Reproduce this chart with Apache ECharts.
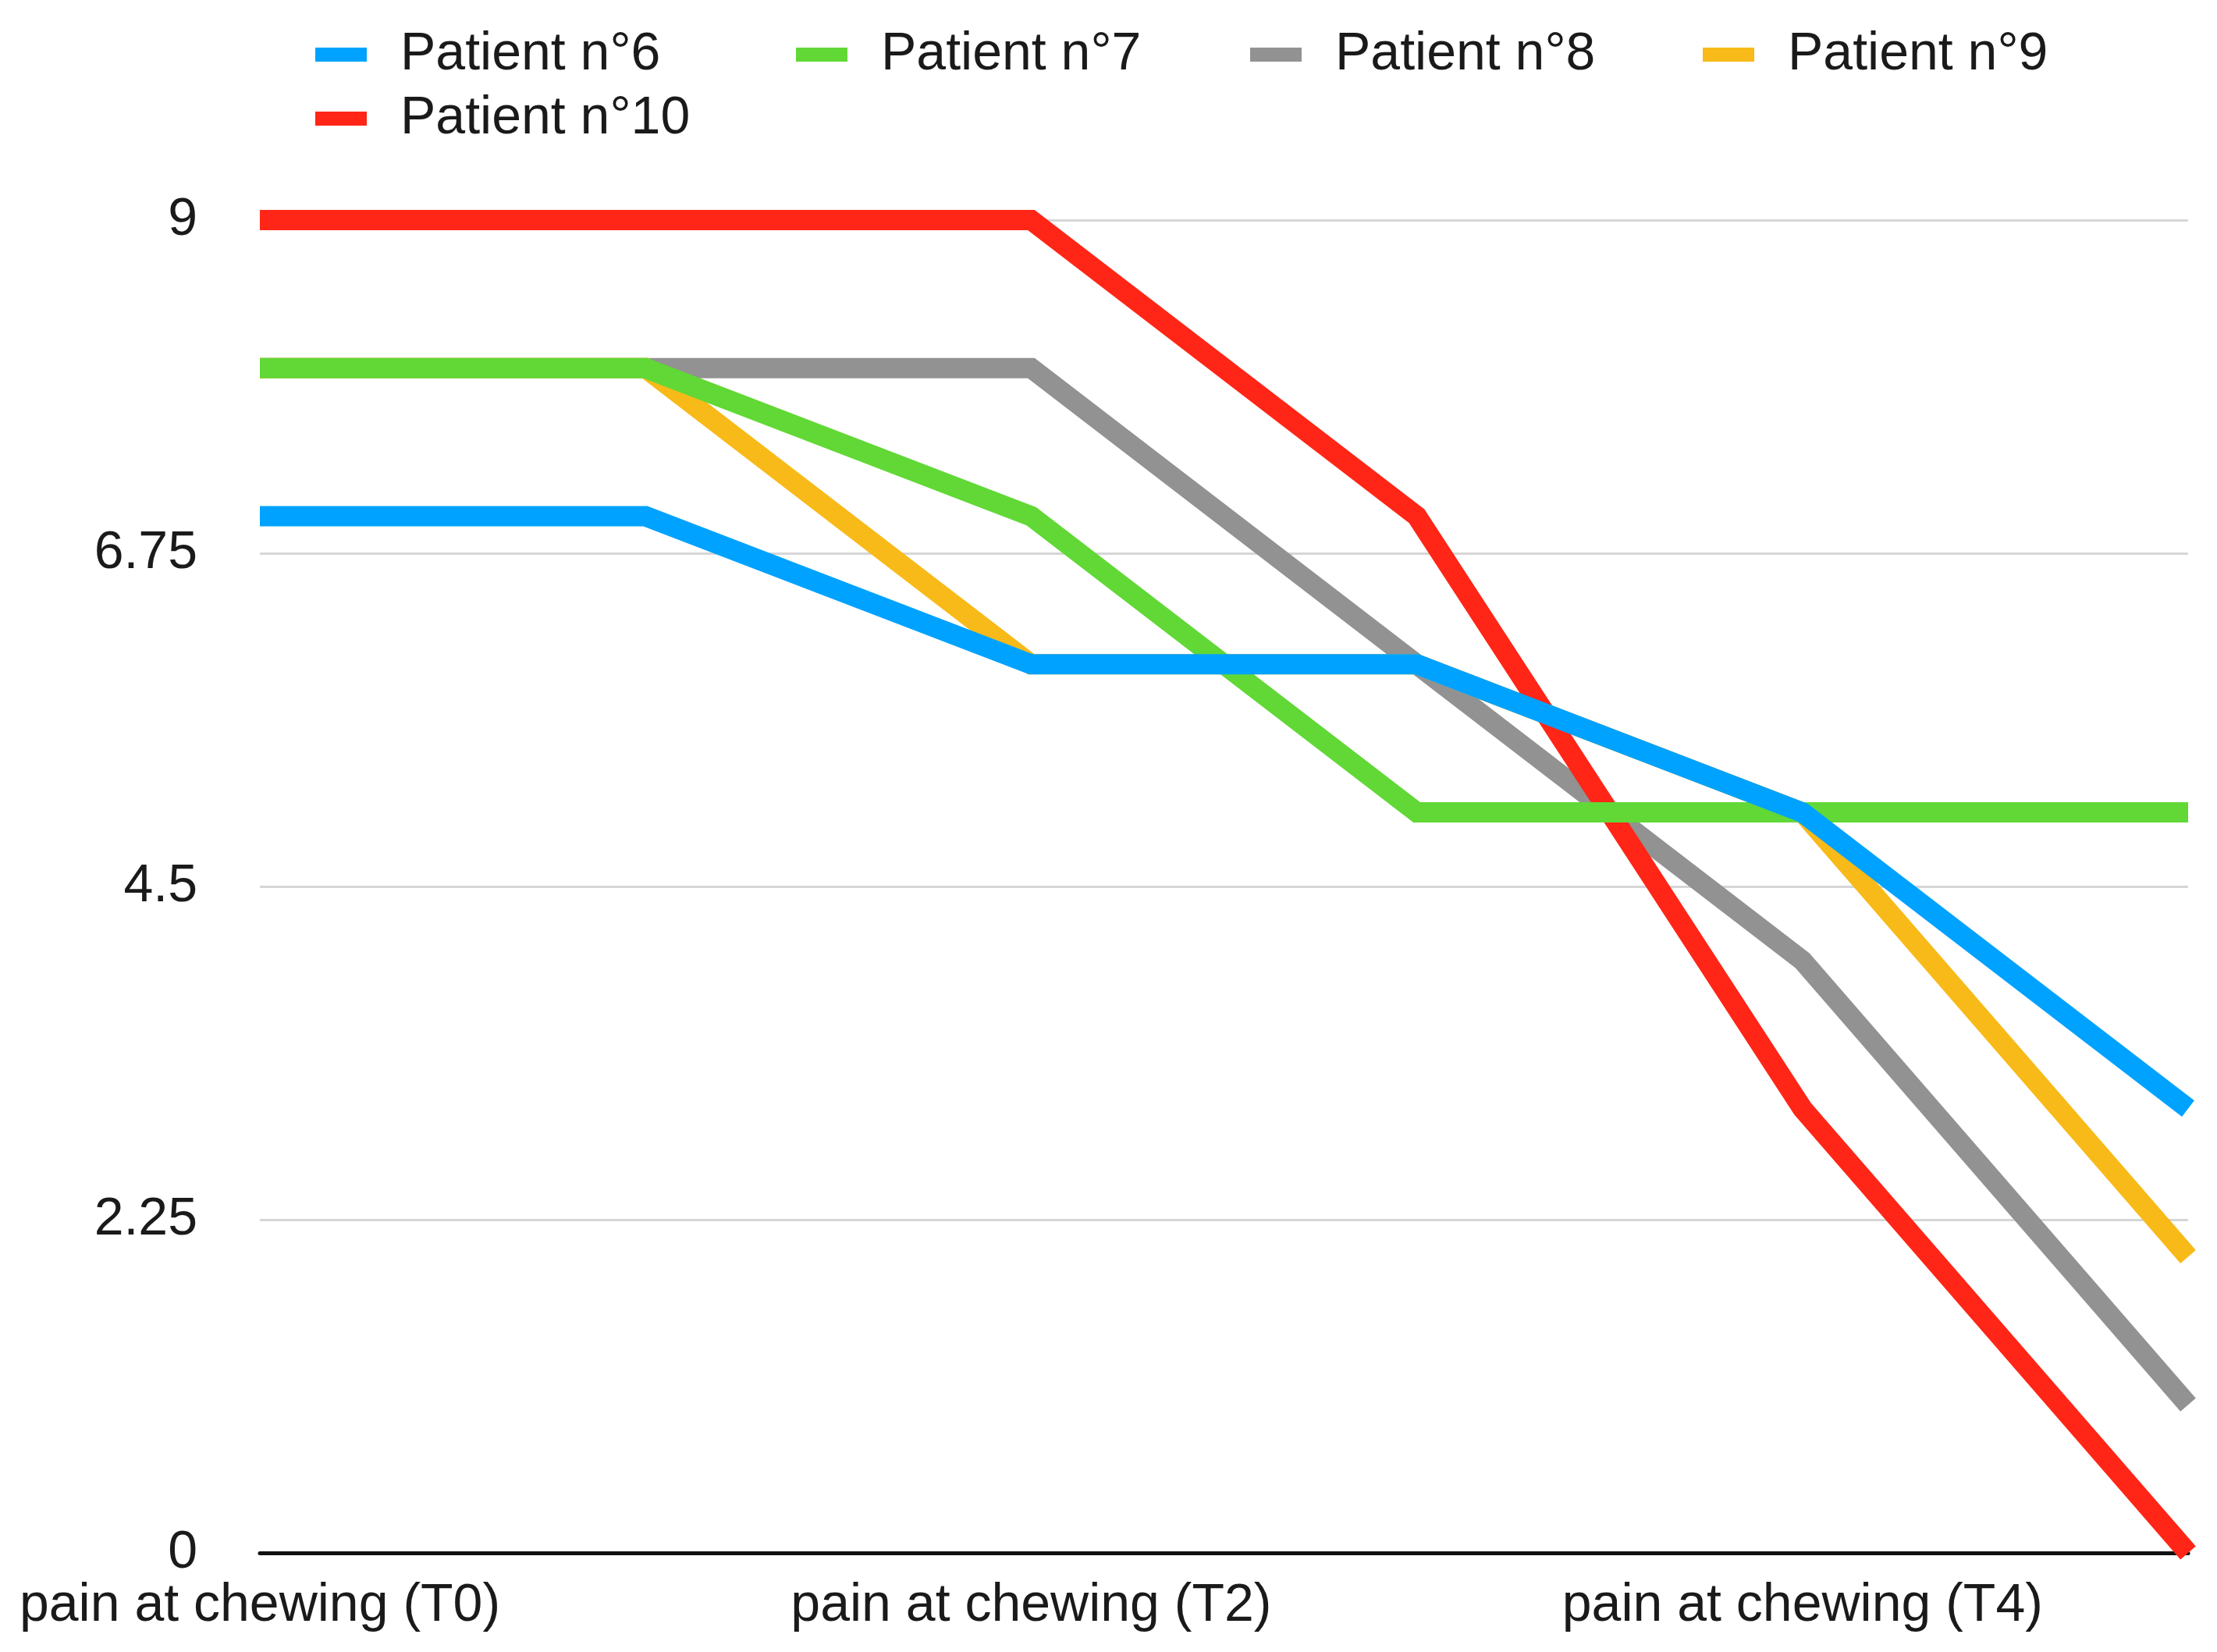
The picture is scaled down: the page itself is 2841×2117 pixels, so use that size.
<!DOCTYPE html>
<html>
<head>
<meta charset="utf-8">
<script src="https://cdn.jsdelivr.net/npm/echarts@6/dist/echarts.min.js"></script>
<style>
html,body{margin:0;padding:0;background:#fff;}
#chart{width:2841px;height:2117px;}
</style>
</head>
<body>
<div id="chart"></div>
<script>
const categories = ["pain at chewing (T0)", "pain at chewing (T1)", "pain at chewing (T2)", "pain at chewing (T3)", "pain at chewing (T4)", "pain at chewing (T5)"];
const seriesNames = ["Patient n°6", "Patient n°7", "Patient n°8", "Patient n°9", "Patient n°10"];
const patient6 = [7, 7, 6, 6, 5, 3];
const patient7 = [8, 8, 7, 5, 5, 5];
const patient8 = [8, 8, 8, 6, 4, 1];
const patient9 = [8, 8, 6, 6, 5, 2];
const patient10 = [9, 9, 9, 7, 3, 0];
const yMin = 0, yMax = 9, yInterval = 2.25;

const colors = {
  "Patient n°6": "#00A2FF",
  "Patient n°7": "#61D836",
  "Patient n°8": "#929292",
  "Patient n°9": "#F8BA18",
  "Patient n°10": "#FF2617"
};
const FONT = "Liberation Sans, Arial, Helvetica, sans-serif";
const TXT = "#1a1a1a";

function mkSeries(name, data, z) {
  return {
    name: name, type: 'line', data: data, z: z,
    symbol: 'none', smooth: false,
    lineStyle: {width: 26, color: colors[name], cap: 'butt', join: 'miter'},
    itemStyle: {color: colors[name]},
    emphasis: {disabled: true}
  };
}

function mkLegend(name, left, top) {
  return {
    data: [name], left: left, top: top,
    icon: 'rect', itemWidth: 66, itemHeight: 18,
    padding: 0,
    selectedMode: false,
    textStyle: {fontSize: 68, fontFamily: FONT, color: TXT, padding: [0, 0, 0, 38]}
  };
}

const chart = echarts.init(document.getElementById('chart'), null, {renderer: 'canvas'});
chart.setOption({
  animation: false,
  backgroundColor: '#ffffff',
  legend: [
    mkLegend("Patient n°6", 404, 36),
    mkLegend("Patient n°7", 1020, 36),
    mkLegend("Patient n°8", 1602, 36),
    mkLegend("Patient n°9", 2182, 36),
    mkLegend("Patient n°10", 404, 118)
  ],
  grid: {left: 333, right: 37, top: 282, bottom: 127, containLabel: false},
  xAxis: {
    type: 'category', data: categories, boundaryGap: false,
    axisLine: {show: true, lineStyle: {color: '#111111', width: 5}},
    axisTick: {show: false},
    axisLabel: {interval: 1, fontSize: 68, fontFamily: FONT, color: TXT, margin: 34, hideOverlap: false},
    splitLine: {show: false}
  },
  yAxis: {
    type: 'value', min: yMin, max: yMax, interval: yInterval,
    axisLine: {show: false}, axisTick: {show: false},
    axisLabel: {fontSize: 68, fontFamily: FONT, color: TXT, margin: 80},
    splitLine: {show: true, lineStyle: {color: '#d6d6d6', width: 3}}
  },
  series: [
    mkSeries("Patient n°8", patient8, 1),
    mkSeries("Patient n°9", patient9, 2),
    mkSeries("Patient n°10", patient10, 3),
    mkSeries("Patient n°7", patient7, 4),
    mkSeries("Patient n°6", patient6, 5)
  ]
});
</script>
</body>
</html>
